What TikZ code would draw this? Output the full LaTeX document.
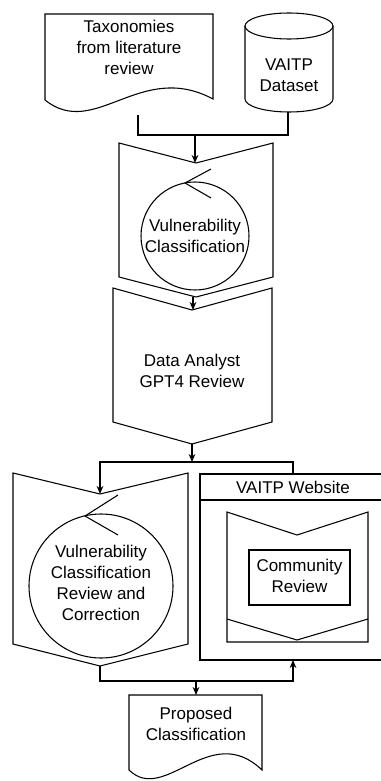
\documentclass[tikz,border=0pt]{standalone}
\usepackage{fontspec}
\setmainfont{Liberation Sans}
\usetikzlibrary{arrows.meta, calc}

\begin{document}
\begin{tikzpicture}[x=0.75pt, y=-0.75pt, line width=0.8pt,
    font=\fontsize{12.75}{15.75}\selectfont,
    lbl/.style={align=center, inner sep=0pt},
    flow/.style={-{Stealth[length=6pt, width=5pt]}}]
    \useasboundingbox (0,0) rectangle (380,781);

    % sources
    \draw (45,14) -- (213,14) -- (213,99) .. controls (140,60) and (95,140) .. (45,100) -- cycle;
    \node[lbl] (tax) at (129,47) {Taxonomies\\from literature\\review};
    \draw (245,26) -- (245,99) arc (180:0:44 and 13) -- (333,26);
    \draw (289,26) ellipse (44 and 13);
    \node[lbl] (dataset) at (289,75) {VAITP\\Dataset};

    % classification
    \draw (119,143) -- (196,163) -- (273,143) -- (273,277) -- (196,297) -- (119,277) -- cycle;
    \draw (195,236) circle (54);
    \draw (211,169) -- (185,183) -- (211,198);
    \node[lbl] (classify) at (195,236) {Vulnerability\\Classification};

    \draw (113,288) -- (192,310) -- (272,288) -- (272,422) -- (192,444) -- (113,422) -- cycle;
    \node[lbl] (gpt) at (192,371) {Data Analyst\\GPT4 Review};

    % review and correction
    \draw (13,473) -- (100,494) -- (188,473) -- (188,644) -- (100,666) -- (13,644) -- cycle;
    \draw (101,586) circle (72);
    \draw (118,495) -- (85,516) -- (118,535);
    \node[lbl] (correct) at (101,583) {Vulnerability\\Classification\\Review and\\Correction};

    % website
    \draw (381,474) -- (200,474) -- (200,660) -- (381,660);
    \draw (200,500) -- (381,500);
    \node[lbl] (web) at (293,487) {VAITP Website};
    \draw (227,512) -- (297,535) -- (368,512) -- (368,642) -- (227,642) -- cycle;
    \draw (227,619) -- (297,640) -- (368,619);
    \draw (249,550) rectangle (350,605);
    \node[lbl] (community) at (299.5,576) {Community\\Review};

    % result
    \draw (129,695) -- (262,695) -- (262,770) .. controls (210,720) and (165,805) .. (129,770) -- cycle;
    \node[lbl] (proposed) at (196,724) {Proposed\\Classification};

    % connectors
    \coordinate (taxout) at (138,115);
    \coordinate (dsout) at (288,112);
    \coordinate (join) at (195,135);
    \coordinate (c1in) at (195,163);
    \coordinate (c1out) at (193,297);
    \coordinate (c2in) at (193,310);
    \coordinate (c2out) at (192,444);
    \coordinate (split) at (192,462);
    \coordinate (c3in) at (100,494);
    \coordinate (webin) at (293,474);
    \coordinate (c3out) at (100,666);
    \coordinate (merge) at (196,681);
    \coordinate (webout) at (293,660);
    \coordinate (propin) at (196,695);

    \draw (taxout) -- (taxout |- join) -- (dsout |- join) -- (dsout);
    \draw[flow] (join) -- (c1in);
    \draw[flow] (c1out) -- (c2in);
    \draw[flow] (c2out) -- (split);
    \draw[flow] (webin) -- (webin |- split) -| (c3in);
    \draw[flow] (c3out) -- (c3out |- merge) -| (webout);
    \draw[flow] (merge) -- (propin);
\end{tikzpicture}
\end{document}
